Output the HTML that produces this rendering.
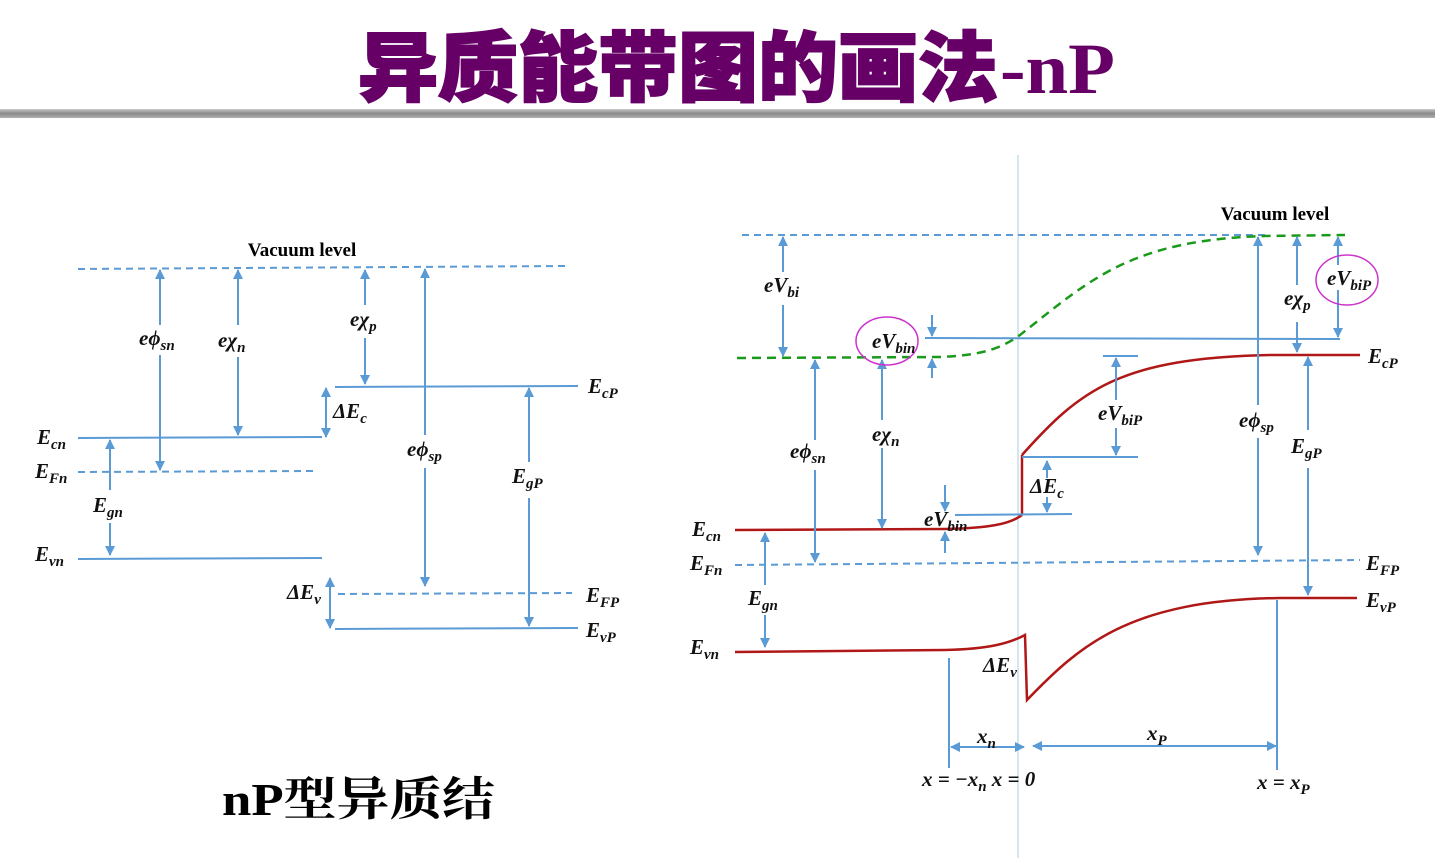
<!DOCTYPE html>
<html><head><meta charset="utf-8"><style>
html,body{margin:0;padding:0;background:#fff;width:1435px;height:858px;overflow:hidden}
svg{display:block}
.m{font-family:"Liberation Serif",serif;font-weight:bold;font-style:italic;font-size:21px;fill:#111}
.s{font-size:15px}
.b{stroke:#5b9bd5;stroke-width:2;fill:none}
.bd{stroke:#5b9bd5;stroke-width:2;fill:none;stroke-dasharray:7 5}
.r{stroke:#b01818;stroke-width:2.5;fill:none}
.g{stroke:#1a9a1a;stroke-width:2.5;fill:none;stroke-dasharray:9 6}
.a{stroke:#5b9bd5;stroke-width:2;marker-end:url(#ah)}
</style></head><body>
<svg width="1435" height="858" viewBox="0 0 1435 858" xmlns="http://www.w3.org/2000/svg">
<defs>
<marker id="ah" viewBox="0 0 10 10" refX="9" refY="5" markerWidth="5" markerHeight="5" orient="auto"><path d="M0,0 L10,5 L0,10 z" fill="#5b9bd5"/></marker>
<linearGradient id="bar" x1="0" y1="0" x2="0" y2="1"><stop offset="0" stop-color="#c8c8c8"/><stop offset="0.5" stop-color="#8a8a8a"/><stop offset="1" stop-color="#b0b0b0"/></linearGradient>
</defs>
<text x="358" y="95" font-family="'Liberation Sans','Noto Sans CJK SC',sans-serif" font-weight="900" font-size="76" fill="#660066" stroke="#660066" stroke-width="2" textLength="640" lengthAdjust="spacingAndGlyphs">异质能带图的画法</text>
<text x="1000" y="93" font-family="'Liberation Serif',serif" font-weight="bold" font-size="72" fill="#660066" textLength="115" lengthAdjust="spacingAndGlyphs">-nP</text>
<rect x="0" y="109" width="1435" height="9" fill="url(#bar)"/>

<!-- LEFT -->
<text x="302" y="256" text-anchor="middle" font-family="'Liberation Serif',serif" font-weight="bold" font-size="19">Vacuum level</text>
<line class="bd" x1="78" y1="269" x2="565" y2="266"/>
<line class="b" x1="78" y1="438" x2="322" y2="437"/>
<line class="bd" x1="78" y1="472" x2="313" y2="471"/>
<line class="b" x1="78" y1="559" x2="322" y2="558"/>
<line class="b" x1="335" y1="387" x2="578" y2="386"/>
<line class="bd" x1="338" y1="594" x2="572" y2="593"/>
<line class="b" x1="335" y1="629" x2="578" y2="628"/>
<line class="a" x1="160" y1="325" x2="160" y2="270"/><line class="a" x1="160" y1="355" x2="160" y2="470"/>
<line class="a" x1="238" y1="325" x2="238" y2="270"/><line class="a" x1="238" y1="357" x2="238" y2="435"/>
<line class="a" x1="365" y1="305" x2="365" y2="270"/><line class="a" x1="365" y1="338" x2="365" y2="384"/>
<line class="a" x1="425" y1="435" x2="425" y2="269"/><line class="a" x1="425" y1="468" x2="425" y2="586"/>
<line class="a" x1="529" y1="462" x2="529" y2="388"/><line class="a" x1="529" y1="498" x2="529" y2="626"/>
<line class="a" x1="110" y1="490" x2="110" y2="440"/><line class="a" x1="110" y1="523" x2="110" y2="555"/>
<line class="a" x1="326" y1="412" x2="326" y2="388"/><line class="a" x1="326" y1="412" x2="326" y2="437"/>
<line class="a" x1="330" y1="594" x2="330" y2="578"/><line class="a" x1="330" y1="594" x2="330" y2="628"/>
<text class="m" x="139" y="345">eϕ<tspan class="s" dy="5">sn</tspan></text>
<text class="m" x="218" y="347">eχ<tspan class="s" dy="5">n</tspan></text>
<text class="m" x="350" y="326">eχ<tspan class="s" dy="5">p</tspan></text>
<text class="m" x="333" y="418">ΔE<tspan class="s" dy="5">c</tspan></text>
<text class="m" x="37" y="444">E<tspan class="s" dy="5">cn</tspan></text>
<text class="m" x="35" y="478">E<tspan class="s" dy="5">Fn</tspan></text>
<text class="m" x="93" y="512">E<tspan class="s" dy="5">gn</tspan></text>
<text class="m" x="35" y="561">E<tspan class="s" dy="5">vn</tspan></text>
<text class="m" x="407" y="456">eϕ<tspan class="s" dy="5">sp</tspan></text>
<text class="m" x="512" y="483">E<tspan class="s" dy="5">gP</tspan></text>
<text class="m" x="588" y="393">E<tspan class="s" dy="5">cP</tspan></text>
<text class="m" x="586" y="602">E<tspan class="s" dy="5">FP</tspan></text>
<text class="m" x="586" y="637">E<tspan class="s" dy="5">vP</tspan></text>
<text class="m" x="287" y="599">ΔE<tspan class="s" dy="5">v</tspan></text>
<text x="222" y="815" font-family="'Liberation Serif','Noto Serif CJK SC',serif" font-weight="bold" font-size="46" fill="#000" textLength="273" lengthAdjust="spacingAndGlyphs">nP型异质结</text>

<!-- RIGHT -->
<line x1="1018" y1="155" x2="1018" y2="858" stroke="#a8cce0" stroke-width="1"/>
<text x="1275" y="220" text-anchor="middle" font-family="'Liberation Serif',serif" font-weight="bold" font-size="19">Vacuum level</text>
<line class="bd" x1="742" y1="235" x2="1265" y2="235"/>
<path class="g" d="M737,358 L940,357 C990,355 1005,345 1020,335 C1090,280 1130,240 1265,236 L1345,235"/>
<line class="b" x1="925" y1="338" x2="1340" y2="339"/>
<path class="r" d="M1022,455 C1080,390 1120,358 1270,355 L1360,355"/>
<line class="r" x1="1022" y1="455" x2="1022" y2="515"/>
<path class="r" d="M735,530 L945,529 C990,528 1010,524 1022,515"/>
<path class="r" d="M735,652 L945,650 C990,649 1010,643 1025,635 L1027,700 C1080,645 1130,600 1280,598 L1357,598"/>
<line class="bd" x1="735" y1="565" x2="1360" y2="560"/>
<line class="b" x1="1022" y1="457" x2="1138" y2="457"/>
<line class="b" x1="1103" y1="356" x2="1138" y2="356"/>
<line class="b" x1="955" y1="515" x2="1072" y2="514"/>
<line class="b" x1="949" y1="658" x2="949" y2="768"/>
<line class="b" x1="1277" y1="600" x2="1277" y2="770"/>
<line class="a" x1="987" y1="747" x2="951" y2="747"/><line class="a" x1="987" y1="747" x2="1024" y2="747"/>
<line class="a" x1="1150" y1="746" x2="1033" y2="746"/><line class="a" x1="1150" y1="746" x2="1276" y2="746"/>
<line class="a" x1="783" y1="272" x2="783" y2="237"/><line class="a" x1="783" y1="305" x2="783" y2="356"/>
<line class="a" x1="932" y1="315" x2="932" y2="336"/><line class="a" x1="932" y1="378" x2="932" y2="359"/>
<line class="a" x1="815" y1="440" x2="815" y2="360"/><line class="a" x1="815" y1="470" x2="815" y2="562"/>
<line class="a" x1="882" y1="420" x2="882" y2="360"/><line class="a" x1="882" y1="448" x2="882" y2="528"/>
<line class="a" x1="945" y1="485" x2="945" y2="511"/><line class="a" x1="945" y1="553" x2="945" y2="532"/>
<line class="a" x1="1047" y1="478" x2="1047" y2="461"/><line class="a" x1="1047" y1="497" x2="1047" y2="512"/>
<line class="a" x1="1116" y1="400" x2="1116" y2="358"/><line class="a" x1="1116" y1="428" x2="1116" y2="455"/>
<line class="a" x1="765" y1="585" x2="765" y2="533"/><line class="a" x1="765" y1="615" x2="765" y2="647"/>
<line class="a" x1="1258" y1="405" x2="1258" y2="237"/><line class="a" x1="1258" y1="438" x2="1258" y2="555"/>
<line class="a" x1="1297" y1="285" x2="1297" y2="237"/><line class="a" x1="1297" y1="322" x2="1297" y2="352"/>
<line class="a" x1="1338" y1="265" x2="1338" y2="237"/><line class="a" x1="1338" y1="290" x2="1338" y2="337"/>
<line class="a" x1="1308" y1="430" x2="1308" y2="357"/><line class="a" x1="1308" y1="468" x2="1308" y2="595"/>
<ellipse cx="887" cy="341" rx="31" ry="24" fill="none" stroke="#cc33cc" stroke-width="1.5"/>
<ellipse cx="1347" cy="280" rx="31" ry="25" fill="none" stroke="#cc33cc" stroke-width="1.5"/>
<text class="m" x="764" y="292">eV<tspan class="s" dy="5">bi</tspan></text>
<text class="m" x="872" y="348">eV<tspan class="s" dy="5">bin</tspan></text>
<text class="m" x="1327" y="285">eV<tspan class="s" dy="5">biP</tspan></text>
<text class="m" x="1284" y="305">eχ<tspan class="s" dy="5">p</tspan></text>
<text class="m" x="1098" y="420">eV<tspan class="s" dy="5">biP</tspan></text>
<text class="m" x="790" y="458">eϕ<tspan class="s" dy="5">sn</tspan></text>
<text class="m" x="872" y="441">eχ<tspan class="s" dy="5">n</tspan></text>
<text class="m" x="1239" y="427">eϕ<tspan class="s" dy="5">sp</tspan></text>
<text class="m" x="1291" y="453">E<tspan class="s" dy="5">gP</tspan></text>
<text class="m" x="1030" y="493">ΔE<tspan class="s" dy="5">c</tspan></text>
<text class="m" x="924" y="526">eV<tspan class="s" dy="5">bin</tspan></text>
<text class="m" x="692" y="536">E<tspan class="s" dy="5">cn</tspan></text>
<text class="m" x="690" y="570">E<tspan class="s" dy="5">Fn</tspan></text>
<text class="m" x="748" y="605">E<tspan class="s" dy="5">gn</tspan></text>
<text class="m" x="690" y="654">E<tspan class="s" dy="5">vn</tspan></text>
<text class="m" x="1368" y="363">E<tspan class="s" dy="5">cP</tspan></text>
<text class="m" x="1366" y="570">E<tspan class="s" dy="5">FP</tspan></text>
<text class="m" x="1366" y="607">E<tspan class="s" dy="5">vP</tspan></text>
<text class="m" x="983" y="672">ΔE<tspan class="s" dy="5">v</tspan></text>
<text class="m" x="977" y="743">x<tspan class="s" dy="5">n</tspan></text>
<text class="m" x="1147" y="740">x<tspan class="s" dy="5">P</tspan></text>
<text class="m" x="922" y="786">x = −x<tspan class="s" dy="5">n</tspan><tspan dy="-5"> x = 0</tspan></text>
<text class="m" x="1257" y="789">x = x<tspan class="s" dy="5">P</tspan></text>
</svg>
</body></html>
